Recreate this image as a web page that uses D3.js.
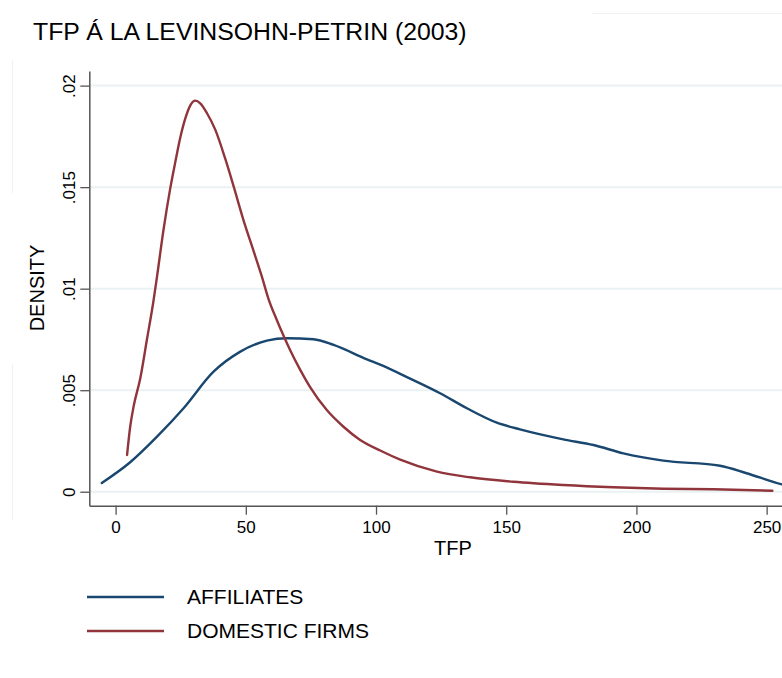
<!DOCTYPE html>
<html>
<head>
<meta charset="utf-8">
<script src="https://cdn.jsdelivr.net/npm/d3@7"></script>
<style>
  html, body { margin: 0; padding: 0; background: #fff; }
  svg { display: block; }
  text { font-family: Arial, "Liberation Sans", sans-serif; fill: #000; }
</style>
</head>
<body>
<svg id="chart" width="782" height="678"></svg>
<script>
// ---- Data ----
const title = "TFP Á LA LEVINSOHN-PETRIN (2003)";
const xLabel = "TFP";
const yLabel = "DENSITY";
const seriesNames = ["AFFILIATES", "DOMESTIC FIRMS"];
const seriesColors = ["#1a476f", "#90353b"];

const xTicks = [0, 50, 100, 150, 200, 250];
const yTicks = [0, 0.005, 0.01, 0.015, 0.02];
const yTickLabels = ["0", ".005", ".01", ".015", ".02"];

const affiliatesTFP = [-5.3, 5.6, 15.9, 26.1, 37.6, 47.9, 58.1, 65.8, 76.0, 83.7, 96.5, 101.6, 113.1, 124.6, 134.9, 146.4, 155.3, 171.9, 183.5, 195.0, 210.3, 232.1, 242.3, 255.9, 262];
const affiliatesDensity = [0.00043, 0.00145, 0.00271, 0.00411, 0.00591, 0.00690, 0.00744, 0.00756, 0.00751, 0.00723, 0.00652, 0.00626, 0.00557, 0.00485, 0.00411, 0.00340, 0.00307, 0.00258, 0.00230, 0.00189, 0.00153, 0.00128, 0.00091, 0.00036, 0.00018];

const domesticTFP = [4.4, 5.6, 6.9, 9.5, 12.0, 14.6, 15.9, 18.4, 21.0, 22.9, 24.8, 26.8, 28.7, 30.6, 32.5, 35.1, 38.3, 42.1, 45.3, 49.1, 53.0, 56.2, 58.7, 61.9, 64.5, 67.0, 70.9, 74.7, 81.1, 87.5, 93.9, 101.6, 109.3, 123.4, 136.1, 152.7, 171.9, 191.1, 210.3, 229.5, 252.2];
const domesticDensity = [0.00181, 0.00320, 0.00419, 0.00560, 0.00747, 0.00944, 0.01059, 0.01290, 0.01495, 0.01622, 0.01742, 0.01840, 0.01903, 0.01926, 0.01913, 0.01864, 0.01782, 0.01640, 0.01505, 0.01338, 0.01185, 0.01058, 0.00950, 0.00846, 0.00768, 0.00698, 0.00600, 0.00515, 0.00402, 0.00320, 0.00255, 0.00203, 0.00158, 0.00099, 0.00071, 0.00049, 0.00033, 0.00022, 0.00015, 0.00012, 0.00005];

// ---- Layout ----
const svg = d3.select("#chart");
const plotLeft = 89.3, plotRight = 782, plotTop = 71, plotBottom = 505.7;

const x = d3.scaleLinear().domain([-10.1, 255.9]).range([plotLeft, plotRight]);
const y = d3.scaleLinear().domain([-0.000688, 0.02072]).range([plotBottom, plotTop]);

// faint frame artifacts
svg.append("line").attr("x1", 592).attr("x2", 782).attr("y1", 13.5).attr("y2", 13.5)
  .attr("stroke", "#f1f1f1").attr("stroke-width", 1);
svg.append("line").attr("x1", 12.5).attr("x2", 12.5).attr("y1", 60).attr("y2", 193)
  .attr("stroke", "#f1f1f1").attr("stroke-width", 1);
svg.append("line").attr("x1", 12.5).attr("x2", 12.5).attr("y1", 364).attr("y2", 520)
  .attr("stroke", "#f1f1f1").attr("stroke-width", 1);

// title
svg.append("text").attr("x", 33).attr("y", 40)
  .attr("font-size", 24.8).text(title);

// gridlines
svg.append("g").selectAll("line").data(yTicks).join("line")
  .attr("x1", plotLeft).attr("x2", plotRight)
  .attr("y1", d => y(d)).attr("y2", d => y(d))
  .attr("stroke", "#eaf2f3").attr("stroke-width", 2);

// curves
svg.append("clipPath").attr("id", "clip").append("rect")
  .attr("x", plotLeft).attr("y", plotTop).attr("width", plotRight - plotLeft).attr("height", plotBottom - plotTop);

const line = d3.line().x(d => x(d[0])).y(d => y(d[1])).curve(d3.curveMonotoneX);
const series = [
  d3.zip(affiliatesTFP, affiliatesDensity),
  d3.zip(domesticTFP, domesticDensity)
];
const g = svg.append("g").attr("clip-path", "url(#clip)");
series.forEach((s, i) => {
  g.append("path").datum(s).attr("d", line)
    .attr("fill", "none").attr("stroke", seriesColors[i]).attr("stroke-width", 2.4)
    .attr("stroke-linejoin", "round").attr("stroke-linecap", "round");
});

// axes
const xAxis = d3.axisBottom(x).tickValues(xTicks).tickSize(9).tickPadding(6).tickSizeOuter(0);
const xg = svg.append("g").attr("transform", `translate(0,${plotBottom})`).call(xAxis);
xg.select(".domain").attr("stroke", "#555").attr("stroke-width", 1.5);
xg.selectAll(".tick line").attr("stroke", "#555").attr("stroke-width", 1.3);
xg.selectAll(".tick text").attr("font-size", 17).attr("font-family", "Arial, 'Liberation Sans', sans-serif").attr("fill", "#000");

const yAxis = d3.axisLeft(y).tickValues(yTicks).tickFormat((d, i) => yTickLabels[i]).tickSize(9).tickSizeOuter(0);
const yg = svg.append("g").attr("transform", `translate(${plotLeft},0)`).call(yAxis);
yg.select(".domain").attr("stroke", "#555").attr("stroke-width", 1.5);
yg.selectAll(".tick line").attr("stroke", "#555").attr("stroke-width", 1.3);
yg.selectAll(".tick text")
  .attr("font-size", 17).attr("font-family", "Arial, 'Liberation Sans', sans-serif").attr("fill", "#000")
  .attr("x", null).attr("dy", null)
  .attr("text-anchor", "middle")
  .attr("transform", "translate(-19,0) rotate(-90)")
  .attr("dominant-baseline", "middle");

// axis titles
svg.append("text").attr("x", 453).attr("y", 555).attr("text-anchor", "middle")
  .attr("font-size", 20).text(xLabel);
svg.append("text").attr("transform", "translate(44,288) rotate(-90)").attr("text-anchor", "middle")
  .attr("font-size", 20).text(yLabel);

// legend
const leg = svg.append("g");
seriesNames.forEach((name, i) => {
  const ly = 597 + i * 34;
  leg.append("line").attr("x1", 87).attr("x2", 164).attr("y1", ly).attr("y2", ly)
    .attr("stroke", seriesColors[i]).attr("stroke-width", 2.4);
  leg.append("text").attr("x", 187).attr("y", ly + 7).attr("font-size", 21).text(name);
});
</script>
</body>
</html>
